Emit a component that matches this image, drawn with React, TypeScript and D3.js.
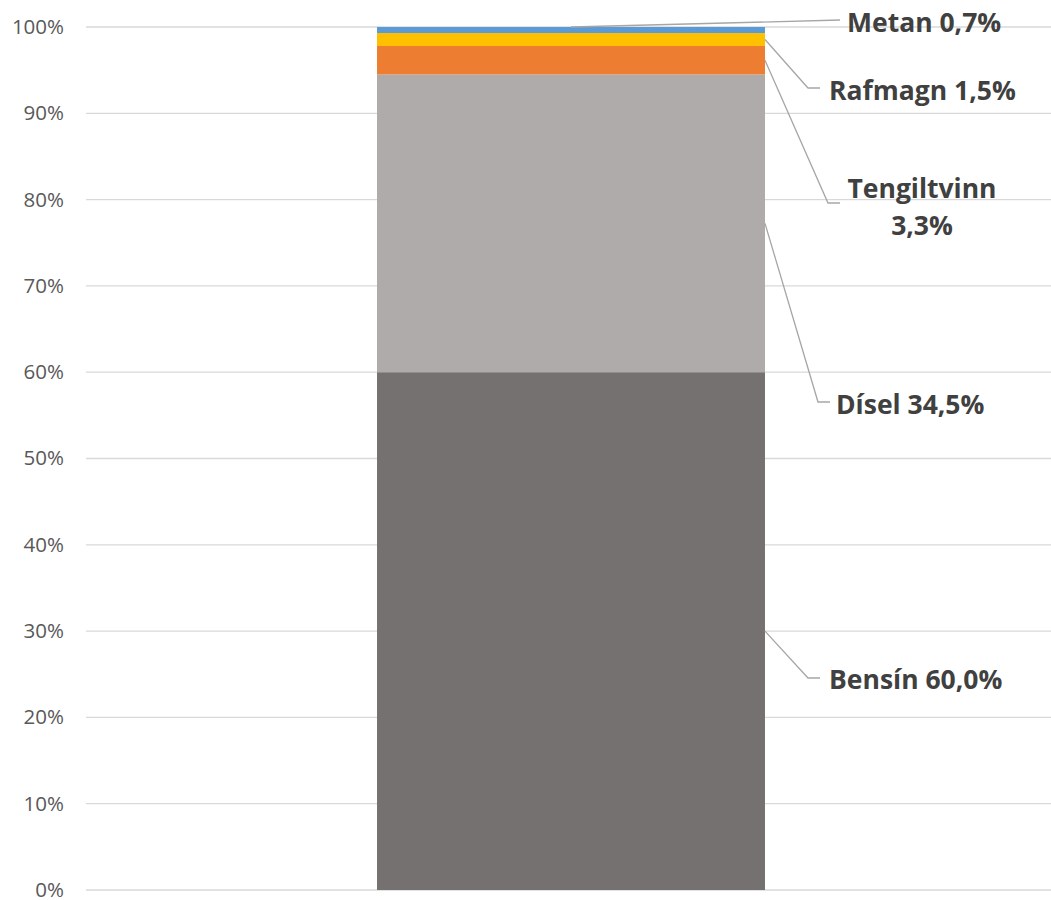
import React from "react";
import * as d3 from "d3";

const categories = ["Bensín", "Dísel", "Tengiltvinn", "Rafmagn", "Metan"];
const values = [60.0, 34.5, 3.3, 1.5, 0.7];
const labelTexts = [["Bensín 60,0%"], ["Dísel 34,5%"], ["Tengiltvinn", "3,3%"], ["Rafmagn 1,5%"], ["Metan 0,7%"]];
const tickValues = [0, 10, 20, 30, 40, 50, 60, 70, 80, 90, 100];

const colors = ["#767171", "#AFABAB", "#ED7D31", "#FFC000", "#5B9BD5"];

// label layout (pixel positions of label anchors)
const labelLayout = [
  { lx: 808, ly: 678, tx: 829, ty: 679, anchor: "start", from: "side" },
  { lx: 818, ly: 402, tx: 836, ty: 404, anchor: "start", from: "side" },
  { lx: 828, ly: 203, tx: 922, ty: 188, anchor: "middle", from: "side" },
  { lx: 808, ly: 88, tx: 829, ty: 90, anchor: "start", from: "side" },
  { lx: 840, ly: 20, tx: 847, ty: 22, anchor: "start", from: "top" },
];

export default function App() {
  const W = 1051, H = 900;
  const left = 86, right = 1056, top = 27, bottom = 890;
  const y = d3.scaleLinear().domain([0, 100]).range([bottom, top]);
  const x = d3.scaleBand().domain(["bar"]).range([left, right]).paddingInner(0.4286).paddingOuter(0.4286);
  const bx = x("bar") as number;
  const bw = x.bandwidth();
  const stacks: { y0: number; y1: number }[] = [];
  let acc = 0;
  values.forEach((v) => { stacks.push({ y0: acc, y1: acc + v }); acc += v; });

  const font = "'Open Sans', sans-serif";
  return (
    <svg width={W} height={H} style={{ position: "absolute", left: 0, top: 0, background: "#fff" }}>
      {tickValues.map((t) => (
        <g key={t}>
          <line x1={left} x2={right} y1={y(t)} y2={y(t)} stroke="#d9d9d9" strokeWidth={1.3} />
          <text x={64} y={y(t)} dy="0.34em" textAnchor="end" fontSize={20.5} fill="#595959" fontFamily={font}>{t}%</text>
        </g>
      ))}
      {stacks.map((s, i) => (
        <rect key={categories[i]} x={bx} width={bw} y={y(s.y1)} height={y(s.y0) - y(s.y1)} fill={colors[i]} />
      ))}
      {stacks.map((s, i) => {
        const L = labelLayout[i];
        const sx = L.from === "top" ? bx + bw / 2 : bx + bw;
        const sy = L.from === "top" ? y(s.y1) : y((s.y0 + s.y1) / 2);
        const pts = L.from === "top" ? [[sx, sy], [L.lx, L.ly]] : [[sx, sy], [L.lx, L.ly], [L.lx + 12, L.ly]];
        return (
          <g key={"l" + i}>
            <polyline points={pts.map((p) => p.join(",")).join(" ")} fill="none" stroke="#a6a6a6" strokeWidth={1.3} />
            {labelTexts[i].map((t, j) => (
              <text key={j} x={L.tx} y={L.ty + j * 37} dy="0.36em" textAnchor={L.anchor as any} fontSize={26.5} fontWeight="bold" fill="#404040" fontFamily={font}>{t}</text>
            ))}
          </g>
        );
      })}
    </svg>
  );
}
